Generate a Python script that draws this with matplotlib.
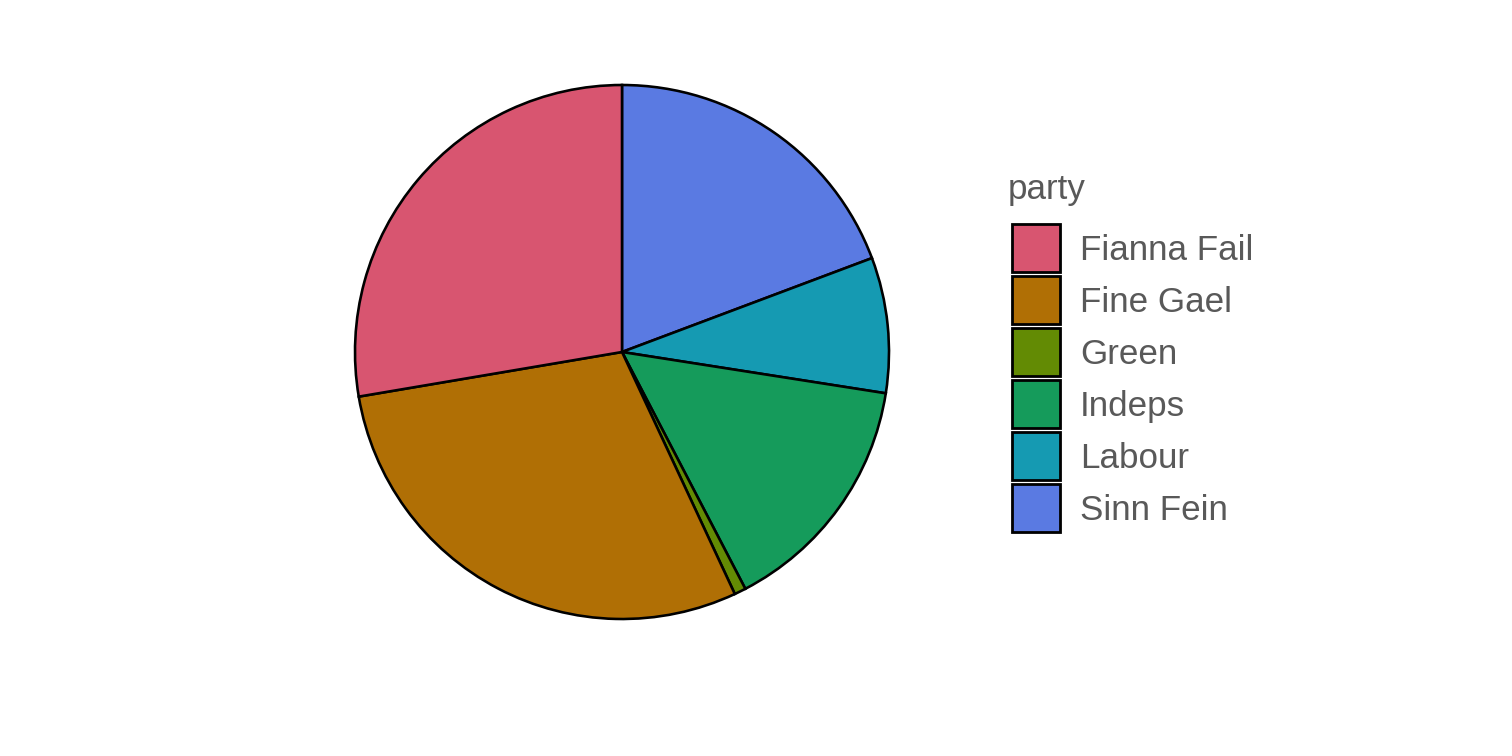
import matplotlib
matplotlib.use("Agg")
import matplotlib.pyplot as plt
from matplotlib.patches import Rectangle

# legend / factor order
parties = ["Fianna Fail", "Fine Gael", "Green", "Indeps", "Labour", "Sinn Fein"]
shares = [27.7, 29.3, 0.7, 14.9, 8.2, 19.3]
colors = ["#D85570", "#B06F05", "#638B04", "#159B5B", "#159AB2", "#5A7AE2"]

W, H, DPI = 1512, 756, 144
fig = plt.figure(figsize=(W / DPI, H / DPI), dpi=DPI)
fig.patch.set_facecolor("white")

# pie: clockwise from 12 o'clock, last level first (ggplot stacking)
cx, cy, r = 622, 352, 267
ax = fig.add_axes([(cx - r) / W, 1 - (cy + r) / H, 2 * r / W, 2 * r / H])
ax.pie(shares[::-1], colors=colors[::-1], startangle=90, counterclock=False,
       radius=1, wedgeprops=dict(edgecolor="black", linewidth=1.3))
ax.set_xlim(-1, 1)
ax.set_ylim(-1, 1)
ax.set_aspect("equal")
ax.axis("off")

# legend drawn by hand in pixel coords
tc = "#595959"
fig.text(1008 / W, 1 - 190 / H, "party", fontsize=17.5, color=tc,
         family="Liberation Sans", va="center", ha="left")
for i, (p, c) in enumerate(zip(parties, colors)):
    yc = 248 + i * 52
    fig.add_artist(Rectangle((1012 / W, 1 - (yc + 24) / H), 48 / W, 48 / H,
                             transform=fig.transFigure, facecolor=c,
                             edgecolor="black", linewidth=1.4))
    fig.text(1080 / W, 1 - (yc + 2) / H, p, fontsize=17.5, color=tc,
             family="Liberation Sans", va="center", ha="left")

fig.savefig("out.png", dpi=DPI)
